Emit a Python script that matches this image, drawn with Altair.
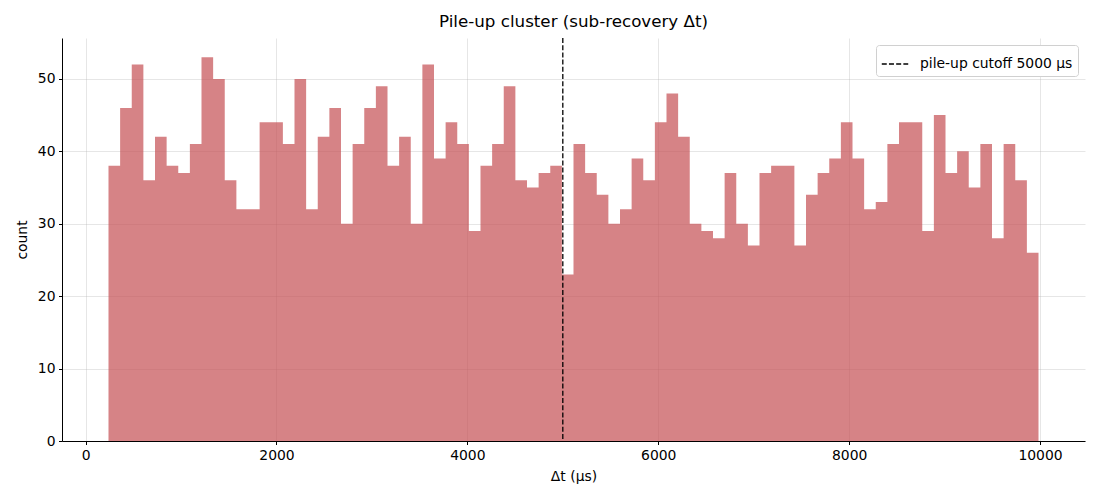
import altair as alt
import numpy as np
import pandas as pd

# histogram counts (80 bins)
counts = [38, 46, 52, 36, 42, 38, 37, 41, 53, 50,
          36, 32, 32, 44, 44, 41, 50, 32, 42, 46,
          30, 41, 46, 49, 38, 42, 30, 52, 39, 44,
          41, 29, 38, 41, 49, 36, 35, 37, 38, 23,
          41, 37, 34, 30, 32, 39, 36, 44, 48, 42,
          30, 29, 28, 37, 30, 27, 37, 38, 38, 27,
          34, 37, 39, 44, 39, 32, 33, 41, 44, 44,
          29, 45, 37, 40, 35, 41, 28, 41, 36, 26]
bin_lo = 240.0
bin_hi = 9984.0
cutoff = [5000]
cutoff_label = ["pile-up cutoff 5000 μs"]
x_ticks = [0, 2000, 4000, 6000, 8000, 10000]
y_ticks = [0, 10, 20, 30, 40, 50]

edges = np.linspace(bin_lo, bin_hi, len(counts) + 1)
# step outline: each bin edge with the count that holds until the next edge
hist = pd.DataFrame({"x": edges, "count": counts + [counts[-1]]})
cut = pd.DataFrame({"x": cutoff, "label": cutoff_label})

FONT = "DejaVu Sans"
span = bin_hi - bin_lo
xdom = [bin_lo - 0.05 * span, bin_hi + 0.05 * span]
ydom = [0, max(counts) * 1.05]

xscale = alt.Scale(domain=xdom, nice=False, zero=False)
yscale = alt.Scale(domain=ydom, nice=False)

bars = alt.Chart(hist).mark_area(color="#c44e52", opacity=0.7,
                                 interpolate="step-after").encode(
    x=alt.X("x:Q", scale=xscale,
            axis=alt.Axis(values=x_ticks, title="Δt (μs)", format="d",
                          titlePadding=8)),
    y=alt.Y("count:Q", scale=yscale,
            axis=alt.Axis(values=y_ticks, title="count", titlePadding=8)),
)

DASH = [5, 2.2]
rule = alt.Chart(cut).mark_rule(strokeDash=DASH, strokeWidth=1.3).encode(
    x="x:Q",
    color=alt.Color("label:N", scale=alt.Scale(range=["black"]),
                    legend=alt.Legend(title=None, orient="top-right",
                                      offset=7, symbolType="stroke",
                                      symbolDash=DASH,
                                      symbolStrokeWidth=1.3,
                                      symbolSize=700,
                                      labelOffset=11,
                                      fillColor="white",
                                      strokeColor="#d0d0d0",
                                      cornerRadius=3,
                                      padding=5,
                                      labelFontSize=13.9,
                                      labelFont=FONT,
                                      labelColor="black")),
)

chart = (bars + rule).properties(
    width=1023, height=403,
    title=alt.TitleParams("Pile-up cluster (sub-recovery Δt)", fontSize=16.7,
                          font=FONT, fontWeight="normal", color="black",
                          offset=7),
    autosize=alt.AutoSizeParams(type="none"),
    padding={"left": 54, "top": 30, "right": 7, "bottom": 51},
).configure_view(stroke=None).configure_axis(
    labelFont=FONT, titleFont=FONT, labelFontSize=13.9, titleFontSize=13.9,
    labelColor="black", titleColor="black", titleFontWeight="normal",
    domainColor="black", domainWidth=1.0, tickColor="black", tickSize=3.5,
    tickWidth=1.0, labelPadding=3.5, grid=True, gridColor="#b0b0b0",
    gridOpacity=0.4, gridWidth=0.8,
)

chart.save("out.html", embed_options={"renderer": "svg", "actions": False})
